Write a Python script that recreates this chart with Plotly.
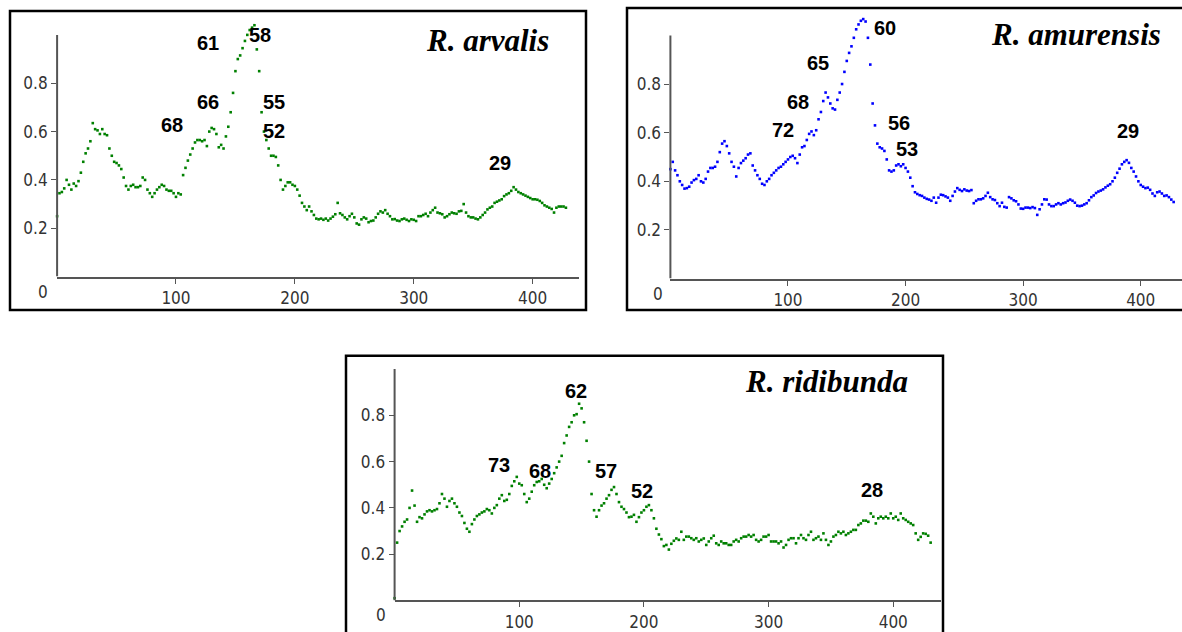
import plotly.graph_objects as go

W, H = 1182, 632

# ---------------- data ----------------
species = ["R. arvalis", "R. amurensis", "R. ridibunda"]
colors = ["#008000", "#0000ff", "#008000"]

arvalis = [
    0.25, 0.345, 0.35, 0.365, 0.40, 0.38, 0.36, 0.385, 0.375, 0.395,
    0.43, 0.475, 0.51, 0.53, 0.56, 0.635, 0.61, 0.605, 0.59, 0.61,
    0.59, 0.585, 0.53, 0.50, 0.475, 0.47, 0.46, 0.445, 0.41, 0.375,
    0.36, 0.375, 0.38, 0.37, 0.37, 0.375, 0.41, 0.40, 0.36, 0.345,
    0.33, 0.345, 0.36, 0.37, 0.38, 0.375, 0.36, 0.355, 0.355, 0.345,
    0.33, 0.345, 0.34, 0.42, 0.45, 0.48, 0.505, 0.53, 0.555, 0.565,
    0.565, 0.56, 0.565, 0.54, 0.60, 0.615, 0.61, 0.59, 0.535, 0.545,
    0.53, 0.58, 0.62, 0.68, 0.76, 0.85, 0.90, 0.915, 0.945, 0.975,
    1.0, 1.02, 1.03, 1.04, 0.94, 0.85, 0.68, 0.60, 0.565, 0.53,
    0.50, 0.50, 0.495, 0.46, 0.40, 0.36, 0.375, 0.39, 0.39, 0.38,
    0.375, 0.36, 0.335, 0.305, 0.29, 0.275, 0.29, 0.27, 0.255, 0.24,
    0.237, 0.24, 0.235, 0.24, 0.232, 0.24, 0.248, 0.258, 0.305, 0.262,
    0.255, 0.245, 0.237, 0.25, 0.26, 0.245, 0.22, 0.215, 0.237, 0.245,
    0.24, 0.225, 0.23, 0.232, 0.245, 0.26, 0.27, 0.265, 0.275, 0.26,
    0.25, 0.237, 0.238, 0.232, 0.23, 0.237, 0.24, 0.235, 0.23, 0.237,
    0.235, 0.23, 0.25, 0.25, 0.255, 0.26, 0.25, 0.265, 0.275, 0.285,
    0.265, 0.262, 0.258, 0.245, 0.25, 0.258, 0.265, 0.262, 0.26, 0.27,
    0.272, 0.30, 0.265, 0.25, 0.245, 0.245, 0.24, 0.237, 0.245, 0.255,
    0.265, 0.278, 0.285, 0.29, 0.305, 0.31, 0.315, 0.32, 0.333, 0.34,
    0.345, 0.355, 0.37, 0.36, 0.35, 0.345, 0.34, 0.335, 0.33, 0.325,
    0.32, 0.32, 0.318, 0.313, 0.305, 0.295, 0.29, 0.285, 0.28, 0.265,
    0.285, 0.29, 0.29, 0.29, 0.285,
]

amurensis = [
    0.45, 0.48, 0.445, 0.425, 0.40, 0.385, 0.37, 0.372, 0.378, 0.395,
    0.405, 0.41, 0.425, 0.40, 0.395, 0.41, 0.44, 0.455, 0.455, 0.46,
    0.48, 0.52, 0.555, 0.565, 0.545, 0.515, 0.48, 0.46, 0.42, 0.455,
    0.475, 0.485, 0.495, 0.51, 0.515, 0.465, 0.445, 0.425, 0.41, 0.39,
    0.385, 0.40, 0.41, 0.425, 0.435, 0.445, 0.455, 0.46, 0.47, 0.48,
    0.49, 0.50, 0.505, 0.495, 0.475, 0.51, 0.54, 0.545, 0.57, 0.595,
    0.605, 0.59, 0.61, 0.655, 0.685, 0.73, 0.765, 0.745, 0.72, 0.70,
    0.695, 0.735, 0.765, 0.80, 0.85, 0.895, 0.928, 0.955, 0.99, 1.025,
    1.045, 1.06, 1.067, 1.057, 0.99, 0.88, 0.72, 0.63, 0.555, 0.54,
    0.535, 0.525, 0.49, 0.445, 0.44, 0.445, 0.465, 0.47, 0.462, 0.47,
    0.455, 0.44, 0.415, 0.38, 0.355, 0.348, 0.343, 0.34, 0.333, 0.328,
    0.325, 0.32, 0.333, 0.312, 0.333, 0.345, 0.343, 0.338, 0.333, 0.32,
    0.34, 0.358, 0.372, 0.365, 0.36, 0.367, 0.362, 0.36, 0.364, 0.31,
    0.32, 0.326, 0.326, 0.33, 0.34, 0.353, 0.335, 0.326, 0.323, 0.31,
    0.298, 0.312, 0.295, 0.292, 0.335, 0.33, 0.322, 0.318, 0.305, 0.288,
    0.287, 0.292, 0.292, 0.29, 0.294, 0.29, 0.262, 0.285, 0.305, 0.326,
    0.325, 0.305, 0.298, 0.298, 0.305, 0.31, 0.305, 0.31, 0.313, 0.32,
    0.325, 0.32, 0.312, 0.30, 0.298, 0.30, 0.305, 0.31, 0.322, 0.335,
    0.342, 0.352, 0.358, 0.362, 0.367, 0.375, 0.382, 0.388, 0.40, 0.415,
    0.435, 0.452, 0.47, 0.48, 0.487, 0.476, 0.455, 0.44, 0.42, 0.40,
    0.385, 0.378, 0.372, 0.374, 0.365, 0.35, 0.34, 0.355, 0.358, 0.35,
    0.34, 0.342, 0.335, 0.325, 0.315,
]

ridibunda = [
    0.01, 0.25, 0.30, 0.32, 0.34, 0.35, 0.40, 0.475, 0.41, 0.34,
    0.36, 0.355, 0.372, 0.385, 0.39, 0.385, 0.39, 0.395, 0.42, 0.46,
    0.44, 0.405, 0.43, 0.44, 0.42, 0.405, 0.38, 0.365, 0.335, 0.31,
    0.297, 0.33, 0.35, 0.365, 0.372, 0.38, 0.385, 0.395, 0.39, 0.376,
    0.40, 0.412, 0.44, 0.455, 0.43, 0.435, 0.46, 0.495, 0.515, 0.534,
    0.505, 0.498, 0.46, 0.425, 0.44, 0.47, 0.498, 0.512, 0.515, 0.525,
    0.50, 0.485, 0.505, 0.525, 0.55, 0.575, 0.60, 0.625, 0.68, 0.713,
    0.75, 0.77, 0.80, 0.805, 0.85, 0.83, 0.77, 0.69, 0.60, 0.46,
    0.39, 0.362, 0.39, 0.41, 0.42, 0.44, 0.455, 0.478, 0.49, 0.46,
    0.425, 0.405, 0.395, 0.38, 0.36, 0.362, 0.37, 0.34, 0.36, 0.38,
    0.39, 0.405, 0.412, 0.39, 0.355, 0.31, 0.285, 0.265, 0.235, 0.24,
    0.22, 0.245, 0.258, 0.268, 0.262, 0.297, 0.262, 0.276, 0.276, 0.269,
    0.262, 0.269, 0.255, 0.262, 0.268, 0.24, 0.255, 0.269, 0.28, 0.247,
    0.24, 0.255, 0.247, 0.247, 0.24, 0.24, 0.255, 0.262, 0.255, 0.269,
    0.276, 0.276, 0.283, 0.276, 0.283, 0.262, 0.255, 0.262, 0.276, 0.276,
    0.283, 0.255, 0.255, 0.255, 0.247, 0.255, 0.229, 0.24, 0.262, 0.269,
    0.269, 0.247, 0.269, 0.283, 0.269, 0.262, 0.283, 0.297, 0.262, 0.269,
    0.276, 0.262, 0.29, 0.262, 0.24, 0.255, 0.276, 0.283, 0.297, 0.29,
    0.297, 0.283, 0.29, 0.297, 0.305, 0.305, 0.326, 0.333, 0.345, 0.345,
    0.34, 0.376, 0.362, 0.333, 0.355, 0.362, 0.355, 0.362, 0.355, 0.376,
    0.355, 0.362, 0.348, 0.376, 0.355, 0.348, 0.34, 0.333, 0.326, 0.29,
    0.262, 0.275, 0.29, 0.288, 0.28, 0.25,
]

series = [arvalis, amurensis, ridibunda]
x_step = 2  # sampling step of the spectra

# peak labels: (text, x, y) in data units
peaks_arvalis = [("61", 127, 0.968), ("58", 171, 1.0), ("66", 127, 0.721),
                 ("68", 97, 0.629), ("55", 182.5, 0.721), ("52", 182.5, 0.601),
                 ("29", 372.6, 0.468)]
peaks_amurensis = [("60", 182.5, 1.03), ("65", 125.8, 0.886), ("68", 108.8, 0.726),
                   ("72", 96, 0.61), ("56", 194.7, 0.64), ("53", 201, 0.531),
                   ("29", 389.5, 0.606)]
peaks_ridibunda = [("62", 145.3, 0.903), ("73", 83.7, 0.584), ("68", 116.6, 0.559),
                   ("57", 169.3, 0.559), ("52", 198.4, 0.472), ("28", 383.2, 0.477)]
peaks = [peaks_arvalis, peaks_amurensis, peaks_ridibunda]

x_ticks = [100, 200, 300, 400]
y_ticks = [0.2, 0.4, 0.6, 0.8]
y_tick_text = ["0.2", "0.4", "0.6", "0.8"]
y_axis_top = 1.0
y_view_top = 1.12

# ---------------- layout (pixel geometry) ----------------
def fx(px):
    return px / W

def fy(py):
    return 1 - py / H

# panel geometry: axis-origin x, axis-end x, y pixel of 0, y pixel of 1.0, x max
panels = [
    dict(x0=57.1, x1=579, y0=277.5, y1=35.0, xmax=439.0,
         frame=(10, 11, 586, 311), title=(551, 41), zero=(43, 293)),
    dict(x0=670.4, x1=1182, y0=279.5, y1=35.5, xmax=435.1,
         frame=(627, 8, 1195, 311), title=(1163, 35), zero=(658, 295)),
    dict(x0=394.6, x1=941, y0=602.4, y1=370.2, xmax=438.3,
         frame=(346, 357, 943, 645), title=(910, 383), zero=(381, 617)),
]

fig = go.Figure()
tick_font = dict(family="Liberation Sans Narrow, Arial Narrow, DejaVu Sans Condensed, sans-serif",
                 size=17, color="#333333")
shapes = []
annotations = []

for i, (ys, pk, p) in enumerate(zip(series, peaks, panels)):
    n = i + 1
    xs = [k * x_step for k in range(len(ys))]
    xa = "x" if n == 1 else f"x{n}"
    ya = "y" if n == 1 else f"y{n}"
    fig.add_trace(go.Scatter(
        x=xs, y=ys, mode="markers", xaxis=xa, yaxis=ya,
        marker=dict(symbol="square", size=2.6, color=colors[i], line=dict(width=0)),
        cliponaxis=False, showlegend=False, hoverinfo="skip"))

    axis_common = dict(showgrid=False, zeroline=False,
                       linecolor="#555555", linewidth=2, ticks="outside",
                       ticklen=5, tickwidth=1, tickcolor="#555555",
                       tickfont=tick_font)
    unit_px = p["y0"] - p["y1"]
    top_px = p["y0"] - y_view_top * unit_px
    fig.update_layout(**{
        f"xaxis{'' if n == 1 else n}": dict(
            domain=[fx(p["x0"]), min(1.0, fx(p["x1"]))], range=[0, p["xmax"]],
            anchor=ya, tickvals=x_ticks, showline=True, **axis_common),
        f"yaxis{'' if n == 1 else n}": dict(
            domain=[fy(p["y0"]), fy(top_px)], range=[0, y_view_top],
            anchor=xa, tickvals=y_ticks, ticktext=y_tick_text, showline=False,
            **axis_common),
    })

    # y axis line (stops at 1.0)
    shapes.append(dict(type="line", xref="paper", yref=ya,
                       x0=fx(p["x0"]), x1=fx(p["x0"]), y0=0, y1=y_axis_top,
                       line=dict(color="#555555", width=2)))
    # frame
    l, t, r, b = p["frame"]
    shapes.append(dict(type="rect", xref="paper", yref="paper",
                       x0=fx(l), x1=fx(r), y0=fy(b), y1=fy(t),
                       line=dict(color="black", width=2.5), fillcolor="rgba(0,0,0,0)"))
    # species title
    annotations.append(dict(xref="paper", yref="paper", x=fx(p["title"][0]), y=fy(p["title"][1]),
                            xanchor="right", yanchor="middle", showarrow=False,
                            text=f"<b><i>{species[i]}</i></b>",
                            font=dict(family="Liberation Serif, Times New Roman, serif",
                                      size=31, color="black")))
    # origin "0"
    annotations.append(dict(xref="paper", yref="paper", x=fx(p["zero"][0]), y=fy(p["zero"][1]),
                            xanchor="center", yanchor="middle", showarrow=False,
                            text="0", font=tick_font))
    # peak labels
    for txt, px_, py_ in pk:
        annotations.append(dict(xref=xa, yref=ya, x=px_, y=py_, xanchor="center",
                                yanchor="middle", showarrow=False, text=f"<b>{txt}</b>",
                                font=dict(family="Liberation Sans, Arial, sans-serif",
                                          size=20, color="black")))

fig.update_layout(width=W, height=H, margin=dict(l=0, r=0, t=0, b=0),
                  paper_bgcolor="white", plot_bgcolor="white",
                  shapes=shapes, annotations=annotations)

fig.write_html("out.html", config={"displayModeBar": False, "staticPlot": True},
               post_script="document.body.style.margin='0px';document.body.style.overflow='hidden';")
